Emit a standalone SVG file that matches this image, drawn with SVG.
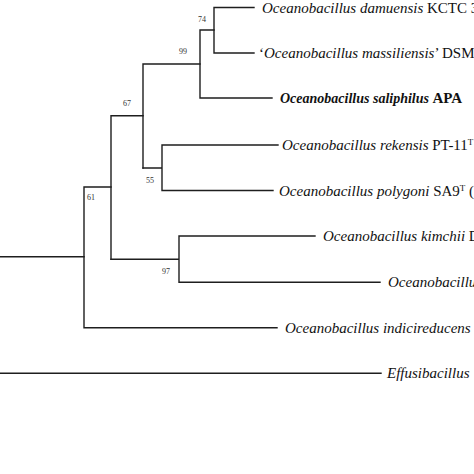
<svg xmlns="http://www.w3.org/2000/svg" width="474" height="474" viewBox="0 0 474 474">
<style>
.br{fill:none;stroke:#1e1e1e;stroke-width:1.4;stroke-linecap:square}
.t{font-family:"Liberation Serif","Times New Roman",serif;font-size:15px;fill:#111}
.i{font-style:italic}
.b{font-weight:bold;font-size:14px}
.bs{font-family:"Liberation Serif","Times New Roman",serif;font-size:8px;fill:#333;text-anchor:middle}
.sup{font-size:9px}
</style>
<rect width="474" height="474" fill="#fff"/>
<g id="connectors">
<path class="br" d="M214,7.5V53 M214,7.5H254 M214,53H254"/>
<path class="br" d="M200,30H214 M200,30V98 M200,98H272"/>
<path class="br" d="M143,64H200 M143,64V168"/>
<path class="br" d="M143,168H162 M162,145V190.5 M162,145H278 M162,190.5H273"/>
<path class="br" d="M111,115.7H143 M111,115.7V259.3"/>
<path class="br" d="M111,259.3H179 M179,236V282.3 M179,236H315 M179,282.3H380"/>
<path class="br" d="M84,187H111 M84,187V327.7 M84,327.7H277"/>
<path class="br" d="M0,256.7H84"/>
<path class="br" d="M0,373.3H381"/>
</g>
<g id="bootstrap">
<text class="bs" x="202" y="22">74</text>
<text class="bs" x="183" y="54">99</text>
<text class="bs" x="127" y="106">67</text>
<text class="bs" x="150" y="183">55</text>
<text class="bs" x="91" y="200">61</text>
<text class="bs" x="166" y="274">97</text>
</g>
<g id="n-damuensis"><text class="t" x="262" y="12.5"><tspan class="i">Oceanobacillus damuensis</tspan> KCTC 3</text></g>
<g id="n-massiliensis"><text class="t" x="259" y="58">‘<tspan class="i">Oceanobacillus massiliensis</tspan>’ DSM</text></g>
<g id="n-saliphilus"><text class="t b" x="280" y="103"><tspan class="i">Oceanobacillus saliphilus</tspan> <tspan font-size="15">APA</tspan></text></g>
<g id="n-rekensis"><text class="t" x="282" y="150"><tspan class="i">Oceanobacillus rekensis</tspan> PT-11<tspan class="sup" dy="-5">T</tspan></text></g>
<g id="n-polygoni"><text class="t" x="279" y="195.5"><tspan class="i">Oceanobacillus polygoni</tspan> SA9<tspan class="sup" dy="-5">T</tspan><tspan dy="5"> (</tspan></text></g>
<g id="n-kimchii"><text class="t" x="323" y="241"><tspan class="i">Oceanobacillus kimchii</tspan> D</text></g>
<g id="n-ocean"><text class="t i" x="388" y="287.3">Oceanobacillus</text></g>
<g id="n-indicireducens"><text class="t i" x="285" y="332.7">Oceanobacillus indicireducens</text></g>
<g id="n-effusibacillus"><text class="t i" x="387" y="378.3">Effusibacillus</text></g>
</svg>
